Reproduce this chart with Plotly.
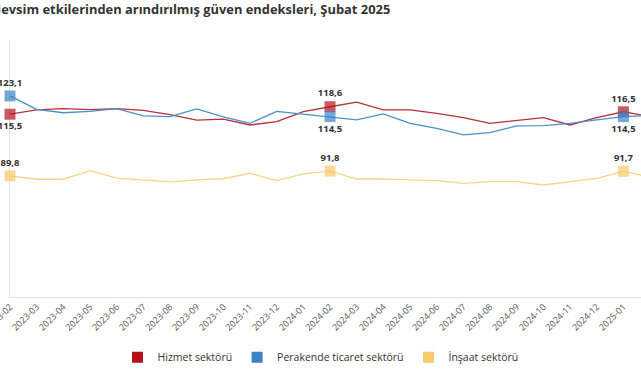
import plotly.graph_objects as go

months = ["2023-02", "2023-03", "2023-04", "2023-05", "2023-06", "2023-07", "2023-08",
          "2023-09", "2023-10", "2023-11", "2023-12", "2024-01", "2024-02", "2024-03",
          "2024-04", "2024-05", "2024-06", "2024-07", "2024-08", "2024-09", "2024-10",
          "2024-11", "2024-12", "2025-01", "2025-02"]

hizmet = [115.5, 117.3, 117.8, 117.4, 117.8, 117.1, 115.3, 113.0, 113.4, 111.0, 112.4, 116.6,
          118.6, 120.5, 117.3, 117.3, 115.8, 114.1, 111.7, 112.8, 114.1, 111.0, 114.1, 116.5, 114.5]
perakende = [123.1, 117.5, 116.1, 116.7, 117.8, 114.8, 114.5, 117.7, 114.4, 111.7, 116.7, 115.6,
             114.5, 113.1, 115.6, 111.7, 109.6, 106.9, 107.8, 110.6, 110.7, 111.7, 113.1, 114.5, 115.0]
insaat = [89.8, 88.4, 88.4, 92.0, 88.9, 88.1, 87.3, 88.1, 88.6, 90.9, 87.8, 90.6,
          91.8, 88.5, 88.5, 88.1, 87.8, 86.7, 87.4, 87.4, 86.0, 87.4, 88.8, 91.7, 89.2]

highlight = [0, 12, 23]

series = [
    ("Hizmet sektörü", hizmet, "#B5121B", "#B8303B", {0: "bottom center", 12: "top center", 23: "top center"}),
    ("Perakende ticaret sektörü", perakende, "#3A83C5", "#4A8FCB", {0: "top center", 12: "bottom center", 23: "bottom center"}),
    ("İnşaat sektörü", insaat, "#F7C968", "#F6D488", {0: "top center", 12: "top center", 23: "top center"}),
]

fig = go.Figure()
for name, vals, mcol, lcol, pos in series:
    sizes = [11 if i in highlight else 0 for i in range(len(vals))]
    texts = [f"{v:.1f}".replace(".", ",") if i in highlight else "" for i, v in enumerate(vals)]
    tpos = [pos.get(i, "top center") for i in range(len(vals))]
    fig.add_trace(go.Scatter(
        x=months, y=vals, mode="lines+markers+text", name=name,
        line=dict(color=lcol, width=1.3),
        marker=dict(symbol="square", size=sizes, color=mcol, line=dict(width=0)),
        text=texts, textposition=tpos,
        textfont=dict(family="Open Sans", size=9.5, color="#333333", weight="bold"),
        cliponaxis=False, showlegend=False, hoverinfo="skip",
    ))

for name, vals, mcol, lcol, pos in series:
    fig.add_trace(go.Scatter(
        x=[None], y=[None], mode="markers", name=name,
        marker=dict(symbol="square", size=11, color=mcol),
        showlegend=True,
    ))

fig.add_annotation(
    text="Mevsim etkilerinden arındırılmış güven endeksleri, Şubat 2025",
    xref="paper", yref="paper", x=0.606, y=1.0, yshift=20, xanchor="right", yanchor="bottom",
    showarrow=False,
    font=dict(family="Open Sans", size=12.9, color="#333333", weight="bold"),
)

fig.update_layout(
    width=641, height=380,
    margin=dict(l=10, r=0, t=40, b=83, autoexpand=False),
    paper_bgcolor="white", plot_bgcolor="white",
    separators=",.",
    font=dict(family="Open Sans", color="#333333"),
    xaxis=dict(
        type="category", range=[0, 23.66], tickangle=-45, automargin=False,
        showgrid=False, showline=True, linecolor="#E2E2E2", linewidth=1,
        ticks="", tickfont=dict(family="Open Sans", size=9, color="#555555"),
        zeroline=False, layer="below traces",
    ),
    yaxis=dict(
        range=[39.35, 146.4], showgrid=False, showticklabels=False, automargin=False,
        showline=True, linecolor="#E2E2E2", linewidth=1, zeroline=False, ticks="",
        layer="below traces",
    ),
    legend=dict(
        orientation="h", xref="container", yref="container", x=0.5, y=0.06,
        xanchor="center", yanchor="middle",
        font=dict(family="Open Sans", size=10.5, color="#333333"),
        itemwidth=30,
    ),
)

fig.write_html("out.html", config={"displayModeBar": False},
               post_script="document.body.style.margin='0';document.body.style.overflow='hidden';")
